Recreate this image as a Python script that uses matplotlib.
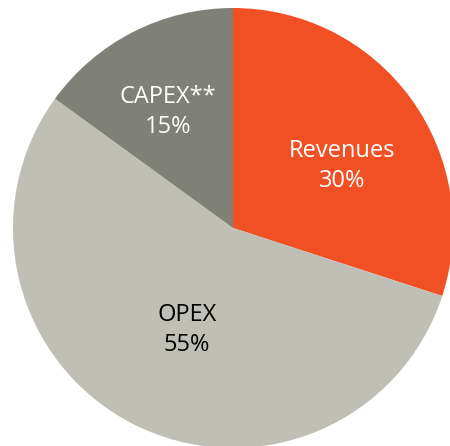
import matplotlib.pyplot as plt

# Data
labels = ["Revenues", "OPEX", "CAPEX**"]
shares = [30, 55, 15]
colors = ["#F05023", "#BFBFB5", "#7F8078"]
text_colors = ["white", "black", "white"]
# label anchor points (pixel coords, y from bottom)
label_pos = [(342, 280), (187, 116), (168, 334)]

fig = plt.figure(figsize=(4.5, 4.46), dpi=100)
ax = fig.add_axes([0, 0, 1, 1])

ax.pie(shares, colors=colors, startangle=90, counterclock=False,
       center=(233, 218), radius=220, wedgeprops=dict(linewidth=0))

for lab, val, (x, y), tc in zip(labels, shares, label_pos, text_colors):
    ax.text(x, y, f"{lab}\n{val}%", ha="center", va="center", color=tc,
            fontsize=17, family="Open Sans", linespacing=1.3)

ax.set_xlim(0, 450)
ax.set_ylim(0, 446)
ax.set_aspect("equal")
ax.axis("off")

fig.savefig("out.png", dpi=100, facecolor="white")
